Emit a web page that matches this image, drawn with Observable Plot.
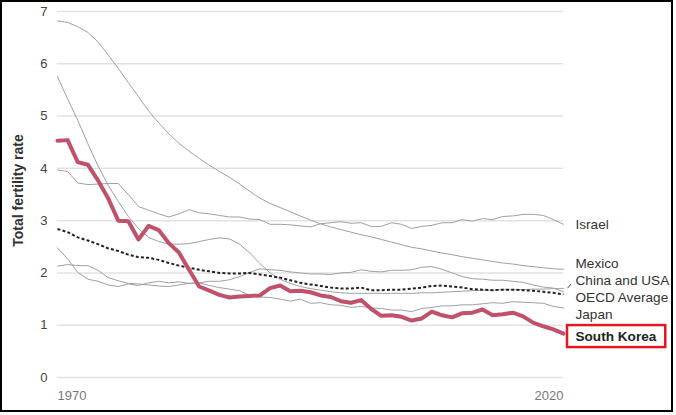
<!DOCTYPE html>
<html>
<head>
<meta charset="utf-8">
<script src="https://cdn.jsdelivr.net/npm/d3@7"></script>
<script src="https://cdn.jsdelivr.net/npm/@observablehq/plot@0.6"></script>
<style>
  html, body { margin: 0; padding: 0; background: #fff; overflow: hidden; }
  #wrap { position: relative; width: 676px; height: 415px; }
  #frame { position: absolute; left: 0; top: 0; width: 673px; height: 412px; border: 2px solid #000; box-sizing: border-box; pointer-events: none; }
</style>
</head>
<body>
<div id="wrap"><div id="chart"></div><div id="frame"></div></div>
<script>
// ---- Data (total fertility rate, 1970–2020) ----
const years = d3.range(1970, 2021);

const southKorea = [4.53, 4.54, 4.12, 4.07, 3.77, 3.43, 3.00, 2.99, 2.64, 2.90,
  2.82, 2.57, 2.39, 2.06, 1.74, 1.66, 1.58, 1.53, 1.55, 1.56,
  1.57, 1.71, 1.76, 1.65, 1.66, 1.63, 1.57, 1.54, 1.46, 1.43,
  1.48, 1.31, 1.18, 1.19, 1.16, 1.09, 1.13, 1.26, 1.19, 1.15,
  1.23, 1.24, 1.30, 1.19, 1.21, 1.24, 1.17, 1.05, 0.98, 0.92,
  0.84];

const japan = [2.13, 2.16, 2.14, 2.14, 2.05, 1.91, 1.85, 1.80, 1.79, 1.77,
  1.75, 1.74, 1.77, 1.80, 1.81, 1.76, 1.72, 1.69, 1.66, 1.57,
  1.54, 1.53, 1.50, 1.46, 1.50, 1.42, 1.43, 1.39, 1.38, 1.34,
  1.36, 1.33, 1.32, 1.29, 1.29, 1.26, 1.32, 1.34, 1.37, 1.37,
  1.39, 1.39, 1.41, 1.43, 1.42, 1.45, 1.44, 1.43, 1.42, 1.36,
  1.33];

const usa = [2.48, 2.27, 2.01, 1.88, 1.84, 1.77, 1.74, 1.79, 1.76, 1.81,
  1.84, 1.81, 1.83, 1.80, 1.81, 1.84, 1.84, 1.87, 1.93, 2.01,
  2.08, 2.06, 2.05, 2.02, 2.00, 1.98, 1.98, 1.97, 2.00, 2.01,
  2.06, 2.03, 2.02, 2.05, 2.05, 2.06, 2.11, 2.12, 2.07, 2.00,
  1.93, 1.89, 1.88, 1.86, 1.86, 1.84, 1.82, 1.77, 1.73, 1.71,
  1.64];

const china = [5.75, 5.33, 4.92, 4.47, 4.05, 3.68, 3.37, 3.08, 2.85, 2.68,
  2.60, 2.55, 2.55, 2.56, 2.60, 2.64, 2.67, 2.65, 2.55, 2.38,
  2.18, 2.00, 1.88, 1.80, 1.74, 1.70, 1.67, 1.64, 1.62, 1.61,
  1.61, 1.61, 1.61, 1.61, 1.61, 1.61, 1.62, 1.62, 1.63, 1.64,
  1.65, 1.66, 1.67, 1.67, 1.68, 1.68, 1.68, 1.69, 1.69, 1.70,
  1.70];

const israel = [3.97, 3.94, 3.72, 3.69, 3.70, 3.71, 3.71, 3.50, 3.27, 3.20,
  3.13, 3.07, 3.13, 3.21, 3.15, 3.13, 3.10, 3.07, 3.07, 3.03,
  3.02, 2.93, 2.93, 2.92, 2.90, 2.88, 2.94, 2.96, 2.98, 2.95,
  2.96, 2.89, 2.89, 2.96, 2.93, 2.85, 2.89, 2.91, 2.96, 2.96,
  3.02, 2.99, 3.04, 3.02, 3.08, 3.09, 3.12, 3.12, 3.10, 3.02,
  2.93];

const mexico = [6.82, 6.79, 6.71, 6.60, 6.42, 6.17, 5.91, 5.64, 5.37, 5.10,
  4.87, 4.66, 4.48, 4.33, 4.19, 4.06, 3.94, 3.83, 3.70, 3.56,
  3.43, 3.33, 3.25, 3.17, 3.09, 3.01, 2.94, 2.88, 2.83, 2.78,
  2.73, 2.69, 2.64, 2.59, 2.54, 2.49, 2.46, 2.42, 2.38, 2.35,
  2.31, 2.28, 2.25, 2.22, 2.19, 2.17, 2.14, 2.12, 2.10, 2.08,
  2.07];

const oecdAverage = [2.84, 2.78, 2.68, 2.62, 2.55, 2.47, 2.42, 2.35, 2.30, 2.29,
  2.25, 2.19, 2.14, 2.10, 2.06, 2.03, 2.00, 1.99, 1.99, 2.00,
  1.97, 1.94, 1.91, 1.86, 1.81, 1.78, 1.75, 1.72, 1.70, 1.70,
  1.72, 1.67, 1.67, 1.68, 1.68, 1.70, 1.72, 1.75, 1.76, 1.74,
  1.72, 1.69, 1.68, 1.67, 1.68, 1.68, 1.67, 1.66, 1.64, 1.62,
  1.59];

const yTicks = [0, 1, 2, 3, 4, 5, 6, 7];
const xTickLabels = [1970, 2020];
const yAxisLabel = "Total fertility rate";

const seriesValues = {
  "Israel": israel, "Mexico": mexico, "China": china, "USA": usa,
  "Japan": japan, "OECD Average": oecdAverage, "South Korea": southKorea
};
const greySeries = ["Mexico", "China", "Israel", "USA", "Japan"];
const highlighted = "South Korea";
const average = "OECD Average";

const labelDefs = [
  {text: "Israel", series: ["Israel"]},
  {text: "Mexico", series: ["Mexico"]},
  {text: "China and USA", series: ["China", "USA"]},
  {text: "OECD Average", series: ["OECD Average"]},
  {text: "Japan", series: ["Japan"]},
  {text: "South Korea", series: ["South Korea"]}
];

// ---- Build tables ----
const rows = name => seriesValues[name].map((v, i) => ({country: name, year: years[i], value: v}));
const greyRows = greySeries.flatMap(rows);
const avgRows = rows(average);
const hiRows = rows(highlighted);

// ---- Layout ----
const W = 676, H = 415, mL = 57, mR = 113, mT = 11, mB = 38;
const lastYear = years[years.length - 1];
const xPx = d3.scaleLinear([years[0], lastYear], [mL, W - mR]);
const yPx = d3.scaleLinear([0, 7], [H - mB, mT]);

// Dodge end labels so they do not overlap (cluster merging)
const items = labelDefs.map(d => ({
  ...d,
  highlight: d.text === highlighted,
  target: yPx(d3.mean(d.series, s => seriesValues[s][seriesValues[s].length - 1]))
})).sort((a, b) => a.target - b.target);
const gapBefore = it => it.highlight ? 22 : 17;
function layoutBlock(b) {
  let off = 0;
  b.items.forEach((it, j) => { if (j > 0) off += gapBefore(it); it.off = off; });
  b.top = d3.mean(b.items, it => it.target - it.off);
}
let blocks = items.map(it => ({items: [it]}));
blocks.forEach(layoutBlock);
let merged = true;
while (merged) {
  merged = false;
  for (let i = 1; i < blocks.length; i++) {
    const a = blocks[i - 1], b = blocks[i];
    const aBottom = a.top + a.items[a.items.length - 1].off;
    if (b.top - aBottom < gapBefore(b.items[0])) {
      a.items.push(...b.items);
      layoutBlock(a);
      blocks.splice(i, 1);
      merged = true;
      break;
    }
  }
}
blocks.forEach(b => b.items.forEach(it => { it.py = b.top + it.off; it.yv = yPx.invert(it.py); }));
const normalLabels = items.filter(d => !d.highlight);
const hiLabels = items.filter(d => d.highlight);
const groupLabels = items.filter(d => d.series.length > 1);

const font = "'Liberation Sans', Arial, Helvetica, sans-serif";

const chart = Plot.plot({
  width: W, height: H,
  marginLeft: mL, marginRight: mR, marginTop: mT, marginBottom: mB,
  x: {domain: [years[0], lastYear], axis: null},
  y: {domain: [0, 7], axis: null},
  style: {fontFamily: font, background: "white", overflow: "visible"},
  marks: [
    Plot.ruleY(yTicks, {stroke: "#e2e2e2", strokeWidth: 1.5}),
    Plot.text(yTicks, {y: d => d, text: d => String(d), frameAnchor: "left", dx: -10, textAnchor: "end", fontSize: 13, fill: "#444"}),
    Plot.text(xTickLabels.slice(0, 1), {x: d => d, text: d => String(d), frameAnchor: "bottom", lineAnchor: "middle", dy: 18, textAnchor: "start", fontSize: 13, fill: "#777"}),
    Plot.text(xTickLabels.slice(1), {x: d => d, text: d => String(d), frameAnchor: "bottom", lineAnchor: "middle", dy: 18, textAnchor: "end", fontSize: 13, fill: "#777"}),
    Plot.text([yAxisLabel], {frameAnchor: "left", textAnchor: "middle", dx: -39, dy: -4, rotate: -90, fontSize: 14, fontWeight: "bold", fill: "#333"}),
    Plot.line(greyRows, {x: "year", y: "value", z: "country", stroke: "#a0a0a0", strokeWidth: 1}),
    Plot.line(avgRows, {x: "year", y: "value", stroke: "#222", strokeWidth: 2, strokeDasharray: "3,2.2", strokeLinecap: "butt"}),
    Plot.line(hiRows, {x: "year", y: "value", stroke: "#c1506a", strokeWidth: 4}),
    Plot.link(groupLabels, {
      x1: () => xPx.invert(xPx(lastYear) + 4), y1: d => yPx.invert(d.target - 2),
      x2: () => xPx.invert(xPx(lastYear) + 7.5), y2: d => yPx.invert(d.py + 3),
      stroke: "#444", strokeWidth: 1
    }),
    Plot.text(normalLabels, {x: () => lastYear, y: "yv", text: "text", dx: 12, textAnchor: "start", fontSize: 13.6, fill: "#333"}),
    Plot.text(hiLabels, {x: () => lastYear, y: "yv", text: "text", dx: 12, textAnchor: "start", fontSize: 13.6, fontWeight: "bold", fill: "#222"})
  ]
});
document.getElementById("chart").appendChild(chart);

// Red highlight box around the highlighted label
const svgRect = chart.getBoundingClientRect();
d3.select(chart).selectAll("text").filter(function() { return this.textContent === highlighted; }).each(function() {
  const r = this.getBoundingClientRect();
  const cy = hiLabels[0].py;
  d3.select(chart).append("rect")
    .attr("x", r.left - svgRect.left - 8.5)
    .attr("y", cy - 11.5)
    .attr("width", r.width + 17)
    .attr("height", 22)
    .attr("fill", "none")
    .attr("stroke", "#e3191f")
    .attr("stroke-width", 2.5);
});
</script>
</body>
</html>
